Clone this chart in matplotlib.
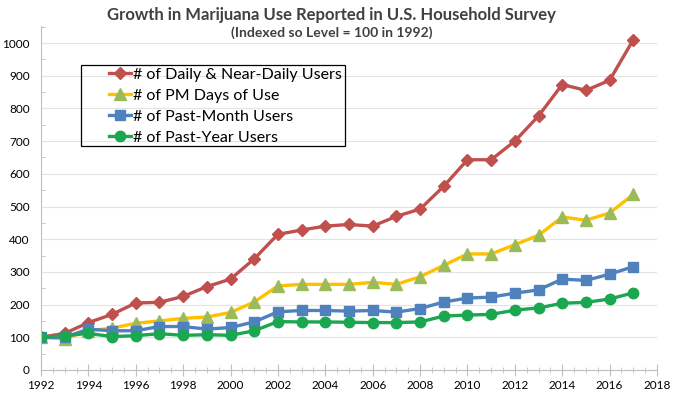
import matplotlib.pyplot as plt
import numpy as np
from matplotlib.ticker import MultipleLocator
from matplotlib.patches import Rectangle

plt.rcParams['font.family'] = ['Lato', 'DejaVu Sans']

# data (index, 1992 = 100)
years = list(range(1992, 2018))
daily = [100, 112, 145, 170, 205, 207, 225, 255, 278, 340, 415, 428, 440, 445,
         440, 470, 492, 562, 643, 643, 700, 777, 873, 855, 886, 1010]
pm_days = [100, 95, 120, 128, 143, 150, 158, 162, 176, 208, 257, 262, 262, 262,
           268, 262, 285, 320, 355, 355, 383, 412, 468, 458, 480, 537]
past_month = [100, 100, 125, 120, 120, 133, 133, 125, 130, 147, 178, 182, 182, 180,
              182, 177, 188, 208, 220, 223, 235, 245, 278, 274, 293, 316]
past_year = [100, 105, 112, 102, 105, 111, 106, 108, 106, 120, 148, 147, 147, 146,
             145, 145, 147, 165, 168, 170, 183, 190, 204, 207, 217, 236]

labels = ['# of Daily & Near-Daily Users', '# of PM Days of Use',
          '# of Past-Month Users', '# of Past-Year Users']

fig = plt.figure(figsize=(6.79, 4.04), dpi=100)
ax = fig.add_axes([41 / 679, 1 - 370 / 404, (657 - 41) / 679, (370 - 26) / 404])

ax.plot(years, daily, color='#C0504D', lw=2.4, marker='D', ms=6,
        mfc='#C0504D', mec='#C0504D', label=labels[0])
ax.plot(years, pm_days, color='#FFC000', lw=2.4, marker='^', ms=8,
        mfc='#9BBB59', mec='#9BBB59', label=labels[1])
ax.plot(years, past_month, color='#4F81BD', lw=2.4, marker='s', ms=7,
        mfc='#4F81BD', mec='#4F81BD', label=labels[2])
ax.plot(years, past_year, color='#1AA74F', lw=2.4, marker='o', ms=7.5,
        mfc='#1AA74F', mec='#1AA74F', label=labels[3])

ax.set_xlim(1992, 2018)
ax.set_ylim(0, 1052)
ax.xaxis.set_major_locator(MultipleLocator(2))
ax.xaxis.set_minor_locator(MultipleLocator(0.5))
ax.yaxis.set_minor_locator(MultipleLocator(50))
ax.set_yticks(np.arange(0, 1001, 100))

ax.grid(axis='y', color='#E3E3E3', lw=0.8)
ax.set_axisbelow(True)
for s in ['top', 'right']:
    ax.spines[s].set_visible(False)
ax.spines['left'].set_color('#BFBFBF')
ax.spines['bottom'].set_color('#BFBFBF')

ax.tick_params(axis='x', which='major', direction='inout', length=8,
               color='#BFBFBF', labelsize=8.5, pad=3)
ax.tick_params(axis='x', which='minor', direction='inout', length=4, color='#BFBFBF')
ax.tick_params(axis='y', which='major', direction='out', length=0,
               labelsize=8.5, pad=8)
ax.tick_params(axis='y', which='minor', direction='in', length=3, color='#BFBFBF')

fig.text(0.488, 0.962, 'Growth in Marijuana Use Reported in U.S. Household Survey',
         ha='center', va='center', fontsize=12, fontweight='bold', color='#404040')
fig.text(0.488, 0.918, '(Indexed so Level = 100 in 1992)',
         ha='center', va='center', fontsize=10, fontweight='bold', color='#404040')

# legend box drawn as a separate frame, entries placed inside it
fig.patches.append(Rectangle((81 / 679, 1 - 146 / 404), (345 - 81) / 679, 81 / 404,
                             transform=fig.transFigure, fill=False,
                             edgecolor='black', lw=0.9, zorder=5))
leg = ax.legend(loc='upper left', bbox_to_anchor=(104 / 679, 1 - 63 / 404),
                bbox_transform=fig.transFigure, fontsize=11.5, frameon=False,
                handlelength=1.4, handletextpad=0.12, labelspacing=0.42,
                borderpad=0.3, borderaxespad=0)

fig.savefig('out.png', dpi=100)
